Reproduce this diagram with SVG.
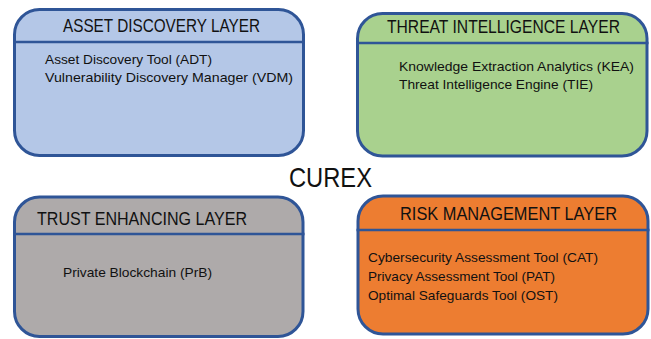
<svg xmlns="http://www.w3.org/2000/svg" width="651" height="339" viewBox="0 0 651 339">
<style>
.box{stroke:#2F5597;stroke-width:3}
.div{stroke:#2F5597;stroke-width:2.5}
.t{font-family:"Liberation Sans",Arial,sans-serif;fill:#111}
.h{font-size:18px}
.b{font-size:13px}
</style>
<rect width="651" height="339" fill="#fff"/>
<g id="asset-discovery-layer">
<rect class="box" x="14.5" y="9.5" width="289" height="146" rx="25" fill="#B4C7E7"/>
<line class="div" x1="13" y1="42" x2="305" y2="42"/>
<text class="t h" x="63" y="32" textLength="197" lengthAdjust="spacingAndGlyphs">ASSET DISCOVERY LAYER</text>
<text class="t b" x="45" y="64" textLength="167" lengthAdjust="spacingAndGlyphs">Asset Discovery Tool (ADT)</text>
<text class="t b" x="45" y="82" textLength="248" lengthAdjust="spacingAndGlyphs">Vulnerability Discovery Manager (VDM)</text>
</g>
<g id="threat-intelligence-layer">
<rect class="box" x="357.5" y="13.5" width="289.5" height="142.5" rx="25" fill="#A9D18E"/>
<line class="div" x1="356" y1="43" x2="648.5" y2="43"/>
<text class="t h" x="387" y="33" textLength="233" lengthAdjust="spacingAndGlyphs">THREAT INTELLIGENCE LAYER</text>
<text class="t b" x="399" y="71" textLength="235" lengthAdjust="spacingAndGlyphs">Knowledge Extraction Analytics (KEA)</text>
<text class="t b" x="399" y="89" textLength="194" lengthAdjust="spacingAndGlyphs">Threat Intelligence Engine (TIE)</text>
</g>
<g id="trust-enhancing-layer">
<rect class="box" x="14.5" y="197" width="288.5" height="139.5" rx="25" fill="#AEAAAA"/>
<line class="div" x1="13" y1="234" x2="304.5" y2="234"/>
<text class="t h" x="37" y="225" textLength="210" lengthAdjust="spacingAndGlyphs">TRUST ENHANCING LAYER</text>
<text class="t b" x="63" y="277" textLength="149" lengthAdjust="spacingAndGlyphs">Private Blockchain (PrB)</text>
</g>
<g id="risk-management-layer">
<rect class="box" x="358" y="196" width="290" height="138" rx="25" fill="#ED7D31"/>
<line class="div" x1="356.5" y1="230" x2="649.5" y2="230"/>
<text class="t h" x="400" y="220" textLength="217" lengthAdjust="spacingAndGlyphs">RISK MANAGEMENT LAYER</text>
<text class="t b" x="368" y="262" textLength="230" lengthAdjust="spacingAndGlyphs">Cybersecurity Assessment Tool (CAT)</text>
<text class="t b" x="368" y="281" textLength="187" lengthAdjust="spacingAndGlyphs">Privacy Assessment Tool (PAT)</text>
<text class="t b" x="368" y="300" textLength="190" lengthAdjust="spacingAndGlyphs">Optimal Safeguards Tool (OST)</text>
</g>
<g id="curex-title">
<text class="t" x="289" y="187" font-size="28" textLength="83" lengthAdjust="spacingAndGlyphs">CUREX</text>
</g>
<g id="connectors"></g>
</svg>
